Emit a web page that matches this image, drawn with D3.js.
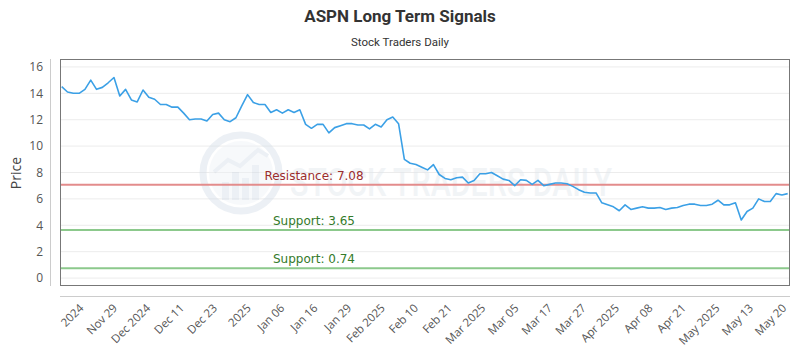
<!DOCTYPE html>
<html>
<head>
<meta charset="utf-8">
<script src="https://cdn.jsdelivr.net/npm/d3@7"></script>
<style>
  html, body { margin: 0; padding: 0; background: #fff; }
  svg { display: block; font-family: "Open Sans", "Noto Sans", sans-serif; }
</style>
</head>
<body>
<svg id="chart" width="800" height="350"></svg>
<script>
const prices = [
  14.5, 14.1, 14.0, 14.0, 14.3, 15.0, 14.3, 14.45, 14.8, 15.2,
  13.8, 14.3, 13.5, 13.35, 14.25, 13.7, 13.55, 13.15, 13.15, 12.95,
  12.95, 12.5, 12.0, 12.05, 12.05, 11.9, 12.4, 12.5, 12.0, 11.85,
  12.15, 13.05, 13.9, 13.3, 13.15, 13.15, 12.55, 12.75, 12.5, 12.75,
  12.55, 12.75, 11.65, 11.35, 11.65, 11.65, 11.0, 11.4, 11.55, 11.7,
  11.7, 11.6, 11.6, 11.3, 11.65, 11.45, 12.0, 12.2, 11.7, 9.0,
  8.7, 8.6, 8.4, 8.2, 8.6, 7.85, 7.55, 7.45, 7.6, 7.65,
  7.2, 7.4, 7.9, 7.9, 8.0, 7.75, 7.5, 7.4, 7.0, 7.45,
  7.4, 7.1, 7.4, 7.0, 7.1, 7.2, 7.2, 7.15, 6.95, 6.7,
  6.5, 6.45, 6.45, 5.7, 5.55, 5.4, 5.1, 5.55, 5.2, 5.3,
  5.4, 5.3, 5.3, 5.35, 5.2, 5.3, 5.35, 5.5, 5.6, 5.6,
  5.5, 5.5, 5.6, 5.9, 5.55, 5.55, 5.7, 4.4, 5.05, 5.3,
  6.0, 5.8, 5.8, 6.4, 6.3, 6.4
];
const tickLabels = ["2024", "Nov 29", "Dec 2024", "Dec 11", "Dec 23", "2025", "Jan 06", "Jan 16",
  "Jan 29", "Feb 2025", "Feb 10", "Feb 21", "Mar 2025", "Mar 05", "Mar 17", "Mar 27",
  "Apr 2025", "Apr 08", "Apr 21", "May 2025", "May 13", "May 20"];
const tickIndex = [2.8, 8.6, 14.3, 20.1, 25.8, 31.6, 37.4, 43.1, 48.9, 54.7, 60.4,
  66.2, 72.0, 77.7, 83.5, 89.3, 95.0, 100.8, 106.5, 112.3, 118.1, 123.8];
const yTicks = [0, 2, 4, 6, 8, 10, 12, 14, 16];
const levelNames = ["Resistance", "Support", "Support"];
const levelValues = [7.08, 3.65, 0.74];
const levelKinds = ["res", "sup", "sup"];

const svg = d3.select("#chart");
const L = 60, R = 790, T = 59, B = 286;
const x = d3.scaleLinear().domain([0, prices.length - 1]).range([L + 1.7, R - 2.3]);
const y = d3.scaleLinear().domain([-0.6, 16.6]).range([B, T]);

// titles
svg.append("text").attr("x", 400).attr("y", 22).attr("text-anchor", "middle")
  .style("font-family", "Roboto, sans-serif").style("font-weight", "bold")
  .style("font-size", "17px").attr("fill", "#333").text("ASPN Long Term Signals");
svg.append("text").attr("x", 400).attr("y", 46).attr("text-anchor", "middle")
  .style("font-family", "Roboto, sans-serif")
  .style("font-size", "11.5px").attr("fill", "#333").text("Stock Traders Daily");

// gridlines
svg.append("g").selectAll("line").data(yTicks).join("line")
  .attr("x1", L).attr("x2", R).attr("y1", d => y(d)).attr("y2", d => y(d))
  .attr("stroke", "#ececec").attr("stroke-width", 1);

// watermark
const wm = svg.append("g").attr("opacity", 0.42);
wm.append("circle").attr("cx", 241).attr("cy", 173).attr("r", 38)
  .attr("fill", "none").attr("stroke", "#d3dde8").attr("stroke-width", 7);
wm.append("circle").attr("cx", 241).attr("cy", 173).attr("r", 32)
  .attr("fill", "#eef2f7");
const barsW = [[222, 182], [232, 172], [242, 178], [252, 165]];
barsW.forEach(b => wm.append("rect").attr("x", b[0]).attr("y", b[1]).attr("width", 7)
  .attr("height", 200 - b[1]).attr("fill", "#d3dde8"));
wm.append("polyline").attr("points", "214,172 228,160 240,166 258,150 268,156")
  .attr("fill", "none").attr("stroke", "#d3dde8").attr("stroke-width", 4);
wm.append("text").attr("x", 290).attr("y", 196).attr("textLength", 322)
  .attr("lengthAdjust", "spacingAndGlyphs")
  .style("font-family", "Roboto, sans-serif").style("font-size", "38px")
  .style("font-weight", "500").attr("fill", "#dfe5ec").text("STOCK TRADERS DAILY");

// level lines
const lvl = svg.append("g");
levelValues.forEach((v, i) => {
  const res = levelKinds[i] === "res";
  lvl.append("line").attr("x1", L).attr("x2", R).attr("y1", y(v)).attr("y2", y(v))
    .attr("stroke", res ? "#e38c8c" : "#8cc98c").attr("stroke-width", 2);
  lvl.append("text").attr("x", 314).attr("y", y(v) - 5).attr("text-anchor", "middle")
    .style("font-family", "\"DejaVu Sans\", sans-serif")
    .style("font-size", "12px").attr("fill", res ? "#9b2d2d" : "#347a2a")
    .text(levelNames[i] + ": " + v.toFixed(2));
});

// price line
svg.append("path").datum(prices)
  .attr("d", d3.line().x((d, i) => x(i)).y(d => y(d)))
  .attr("fill", "none").attr("stroke", "#3ba0e6").attr("stroke-width", 1.6)
  .attr("stroke-linejoin", "round");

// plot border
svg.append("rect").attr("x", L + 0.5).attr("y", T + 0.5).attr("width", R - L - 1)
  .attr("height", B - T - 1).attr("fill", "none").attr("stroke", "#777").attr("stroke-width", 1);

// y axis
const yAxis = svg.append("g").attr("transform", `translate(50,0)`)
  .call(d3.axisLeft(y).tickValues(yTicks).tickSize(0).tickPadding(7));
yAxis.select(".domain").attr("stroke", "#ccc").attr("d", `M0.5,${T}V${B}`);
yAxis.selectAll("text").style("font-size", "12px").attr("fill", "#555")
  .style("font-family", "\"Open Sans\", sans-serif");
svg.append("text").attr("transform", "translate(21,173) rotate(-90)")
  .attr("text-anchor", "middle").style("font-size", "14px").attr("fill", "#444").text("Price");

// x axis
const xAxis = svg.append("g").attr("transform", `translate(0,296)`)
  .call(d3.axisBottom(x).tickValues(tickIndex).tickSize(0)
    .tickFormat((d, i) => tickLabels[i]));
xAxis.select(".domain").attr("stroke", "#ccc").attr("d", `M${L},0.5H${R}`);
xAxis.selectAll("text").style("font-size", "11.5px").attr("fill", "#555")
  .style("font-family", "\"Open Sans\", sans-serif")
  .attr("text-anchor", "end").attr("dy", "0.35em").attr("y", 0)
  .attr("transform", "translate(3,10) rotate(-45)");
</script>
</body>
</html>
